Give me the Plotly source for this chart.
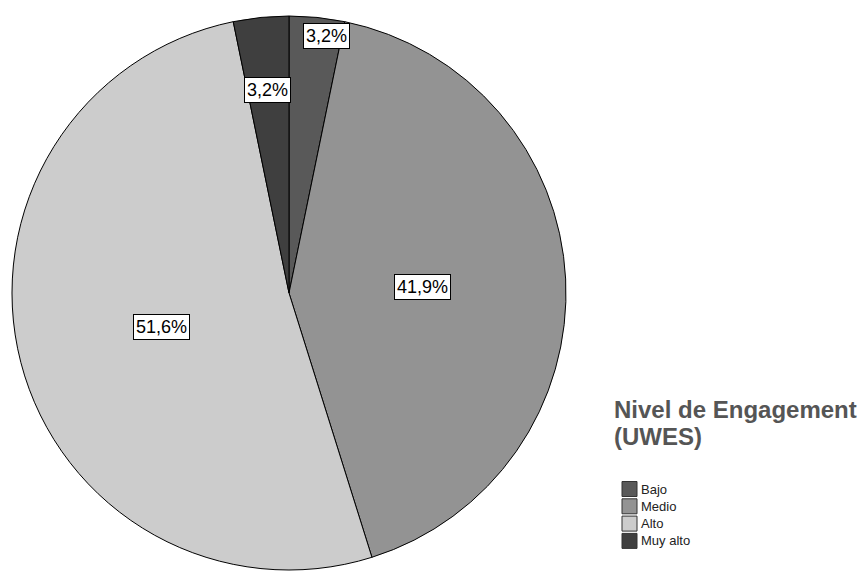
import math
import plotly.graph_objects as go

categories = ["Bajo", "Medio", "Alto", "Muy alto"]
counts = [1, 13, 16, 1]
colors = ["#595959", "#939393", "#cccccc", "#3f3f3f"]
legend_title_lines = ["Nivel de Engagement", "(UWES)"]

# label placement style (fraction of radius, angular nudge in degrees)
label_radius = [0.937, 0.484, 0.475, 0.737]
label_nudge = [2.4, 0.3, -0.5, -0.1]

total = sum(counts)
cx, cy, R = 289, 293, 277
W, H = 865, 579
FONT = "Liberation Sans, Arial, sans-serif"

fig = go.Figure(go.Pie(
    labels=categories, values=counts, sort=False, direction="clockwise", rotation=0,
    marker=dict(colors=colors, line=dict(color="#000000", width=1)),
    textinfo="none", hoverinfo="label+percent", showlegend=False,
    domain=dict(x=[(cx - R) / W, (cx + R) / W], y=[(H - cy - R) / H, (H - cy + R) / H]),
))

cum = 0
for cat, v, rf, nd in zip(categories, counts, label_radius, label_nudge):
    mid = (cum + v / 2) / total * 2 * math.pi + math.radians(nd)
    cum += v
    px = cx + rf * R * math.sin(mid)
    py = cy - rf * R * math.cos(mid)
    pct = f"{100 * v / total:.1f}".replace(".", ",") + "%"
    fig.add_annotation(x=px / W, y=1 - py / H, xref="paper", yref="paper", text=pct,
                       xanchor="center", yanchor="middle",
                       showarrow=False, bgcolor="white", bordercolor="black", borderwidth=1,
                       borderpad=2, font=dict(family=FONT, size=18, color="black"))

# legend (drawn manually: bold two-line title, square swatches)
for j, line in enumerate(legend_title_lines):
    fig.add_annotation(x=612 / W, y=1 - (409 + 27 * j) / H, xref="paper", yref="paper",
                       text="<b>" + line + "</b>", showarrow=False,
                       xanchor="left", yanchor="middle",
                       font=dict(family=FONT, size=24, color="#555555"))
first, pitch, sw = 489, 17.3, 15
for i, (cat, col) in enumerate(zip(categories, colors)):
    yc = first + i * pitch
    fig.add_shape(type="rect", xref="paper", yref="paper",
                  x0=622 / W, x1=(622 + sw) / W,
                  y0=1 - (yc - sw / 2) / H, y1=1 - (yc + sw / 2) / H,
                  fillcolor=col, line=dict(color="#333333", width=1))
    fig.add_annotation(x=639 / W, y=1 - yc / H, xref="paper", yref="paper", text=cat,
                       showarrow=False, xanchor="left", yanchor="middle",
                       font=dict(family=FONT, size=13, color="#222222"))

fig.update_layout(
    width=W, height=H, margin=dict(l=0, r=0, t=0, b=0),
    paper_bgcolor="white", plot_bgcolor="white", showlegend=False,
)
fig.write_html("out.html", config={"displayModeBar": False},
               post_script="document.body.style.margin='0';")
